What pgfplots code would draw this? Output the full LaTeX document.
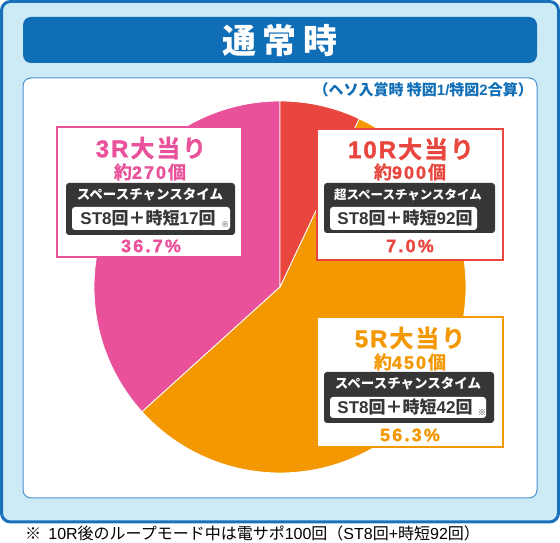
\documentclass[border=0pt]{standalone}
\usepackage{pgfplots}
\pgfplotsset{compat=1.18}
\usepackage{fontspec}
\setmainfont{Noto Sans CJK JP}
\newfontfamily\lt{Liberation Sans}
\newfontface\ltH{Liberation Sans Bold}[FakeBold=1.5]
\newfontface\jpH{Noto Sans CJK JP Bold}[LetterSpace=8, FakeBold=1]
\newcommand{\ka}{\kern2pt}
\newcommand{\kb}{\kern2.2pt}
\definecolor{pinkc}{HTML}{E9529A}
\definecolor{redc}{HTML}{E8463E}
\definecolor{orangec}{HTML}{F39800}
\definecolor{bannerc}{HTML}{106EB7}
\definecolor{bgc}{HTML}{CDEAF7}
\definecolor{framec}{HTML}{1A70BA}
\definecolor{panelc}{HTML}{4A92D2}
\definecolor{barc}{HTML}{363636}
\newcommand{\fs}[1]{\fontsize{#1}{#1}\selectfont}
\begin{document}
\begin{tikzpicture}[x=1pt,y=1pt]
\useasboundingbox (0,0) rectangle (560,543);
% outer frame
\draw[fill=bgc, draw=framec, line width=3pt, rounded corners=9pt] (1.5,21) rectangle (558.5,541.5);
% banner
\fill[bannerc, rounded corners=8pt] (23,480) rectangle (537,526);
\node[text=white, font=\bfseries\fs{34}, inner sep=0] at (280,502) {通\hspace{7pt}常\hspace{7pt}時};
% inner panel
\draw[fill=white, draw=panelc, line width=1pt, rounded corners=8pt] (23,45) rectangle (537,465);
\node[text=bannerc, font=\bfseries\fs{15}, inner sep=0, anchor=east] at (533,453) {（ヘソ入賞時 特図{\lt 1/}特図{\lt 2}合算）};
% pie
\pgfmathsetmacro{\aR}{90-3.6*7.0}
\pgfmathsetmacro{\aO}{\aR-3.6*56.3}
\pgfmathsetmacro{\aP}{90+3.6*36.7}
\begin{axis}[at={(280pt,256pt)}, anchor=center, scale only axis, width=372pt, height=372pt,
  hide axis, xmin=-1, xmax=1, ymin=-1, ymax=1, clip=false]
\addplot[fill=pinkc, draw=white, line width=0.8pt, domain=90:\aP, samples=80, variable=\t] ({cos(t)},{sin(t)}) -- (axis cs:0,0) -- cycle;
\addplot[fill=orangec, draw=white, line width=0.8pt, domain=\aO:\aR, samples=120, variable=\t] ({cos(t)},{sin(t)}) -- (axis cs:0,0) -- cycle;
\addplot[fill=redc, draw=white, line width=0.8pt, domain=\aR:90, samples=30, variable=\t] ({cos(t)},{sin(t)}) -- (axis cs:0,0) -- cycle;
\end{axis}
% ---- pink box (3R)
\draw[fill=white, draw=pinkc, line width=2pt] (57,286) rectangle (242,416);
\node[text=pinkc, font=\jpH\fs{24}, inner sep=0] at (151,395) {{\ltH 3\ka R\ka}大当り};
\node[text=pinkc, font=\jpH\fs{18}, inner sep=0] at (150,371) {約{\ltH 2\ka 7\ka 0\ka}個};
\fill[barc, rounded corners=3pt] (66,308) rectangle (235,360);
\node[text=white, font=\bfseries\fs{13.5}, inner sep=0] at (150,348) {スペースチャンスタイム};
\fill[white, rounded corners=3pt] (72,313) rectangle (230,336);
\node[text=barc, font=\bfseries\fs{17}, inner sep=0] at (148,325) {{\lt ST8}回＋時短{\lt 17}回};
\node[text=barc, font=\fs{8}, inner sep=0] at (225,318) {※};
\node[text=pinkc, font=\ltH\fs{18}, inner sep=0] at (151,297) {3\kb 6\kb .\kb 7\kb \%};
% ---- red box (10R)
\draw[fill=white, draw=redc, line width=2pt] (317,283) rectangle (503,414);
\node[text=redc, font=\jpH\fs{24}, inner sep=0] at (411,394) {{\ltH 1\ka 0\ka R\ka}大当り};
\node[text=redc, font=\jpH\fs{18}, inner sep=0] at (410,371) {約{\ltH 9\ka 0\ka 0\ka}個};
\fill[barc, rounded corners=3pt] (324,310) rectangle (495,360);
\node[text=white, font=\bfseries\fs{12.5}, inner sep=0] at (408,348) {超スペースチャンスタイム};
\fill[white, rounded corners=3pt] (330,313) rectangle (477,336);
\node[text=barc, font=\bfseries\fs{17}, inner sep=0] at (405,325) {{\lt ST8}回＋時短{\lt 92}回};
\node[text=redc, font=\ltH\fs{18}, inner sep=0] at (410,297) {7\kb .\kb 0\kb \%};
% ---- orange box (5R)
\draw[fill=white, draw=orangec, line width=2pt] (317,96) rectangle (503,226);
\node[text=orangec, font=\jpH\fs{24}, inner sep=0] at (410,205) {{\ltH 5\ka R\ka}大当り};
\node[text=orangec, font=\jpH\fs{18}, inner sep=0] at (410,181) {約{\ltH 4\ka 5\ka 0\ka}個};
\fill[barc, rounded corners=3pt] (324,120) rectangle (494,171);
\node[text=white, font=\bfseries\fs{13.5}, inner sep=0] at (408,159) {スペースチャンスタイム};
\fill[white, rounded corners=3pt] (330,125) rectangle (486,146);
\node[text=barc, font=\bfseries\fs{17}, inner sep=0] at (405,136) {{\lt ST8}回＋時短{\lt 42}回};
\node[text=barc, font=\fs{8}, inner sep=0] at (482,130) {※};
\node[text=orangec, font=\ltH\fs{18}, inner sep=0] at (410,108) {5\kb 6\kb .\kb 3\kb \%};
% footnote
\node[text=black, font=\fs{16}, inner sep=0, anchor=west] at (25,10) {※\ \ {\lt 10R}後のループモード中は電サポ{\lt 100}回（{\lt ST8}回{\lt +}時短{\lt 92}回）};
\end{tikzpicture}
\end{document}
